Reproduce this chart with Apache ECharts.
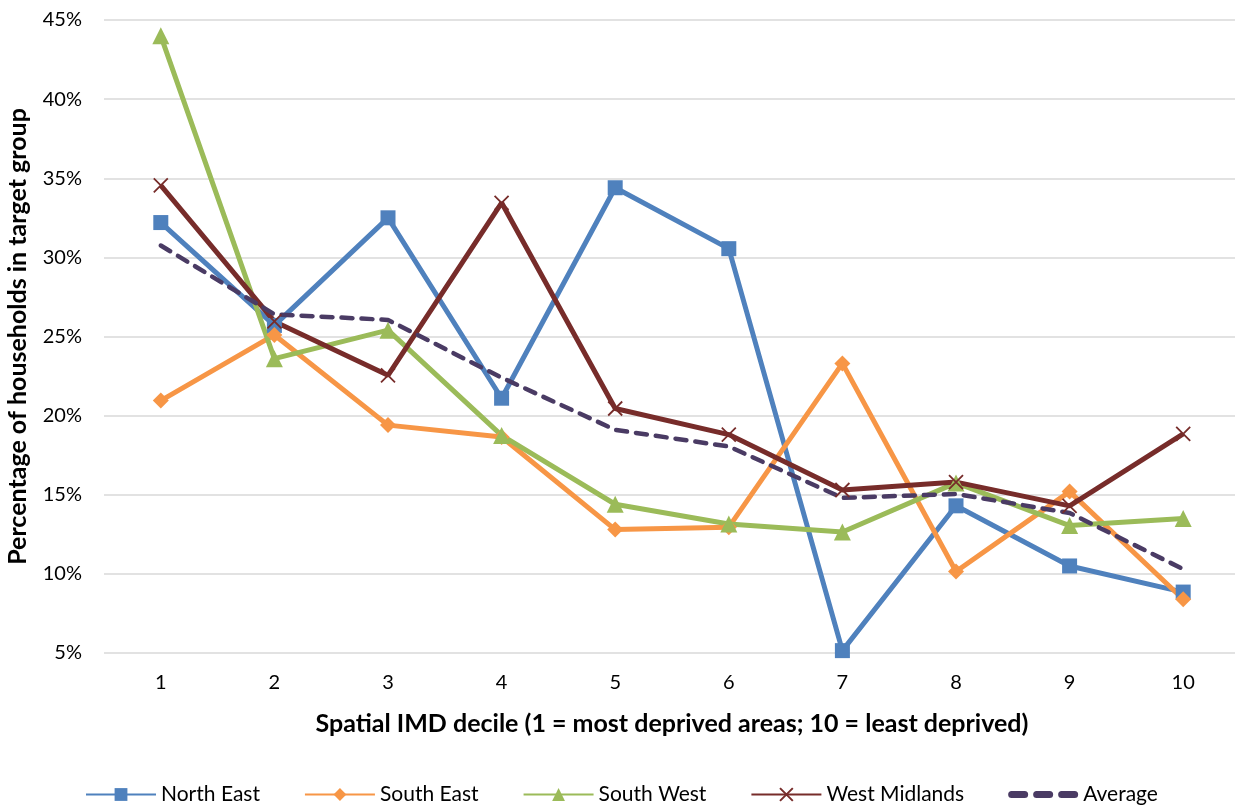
<!DOCTYPE html>
<html>
<head>
<meta charset="utf-8">
<script src="https://cdn.jsdelivr.net/npm/echarts@6/dist/echarts.min.js"></script>
<style>
html,body{margin:0;padding:0;background:#fff;}
#chart{width:1235px;height:805px;}
</style>
</head>
<body>
<div id="chart"></div>
<script>
const categories = ['1','2','3','4','5','6','7','8','9','10'];
const northEast = [32.2, 25.7, 32.5, 21.1, 34.4, 30.55, 5.15, 14.3, 10.5, 8.85];
const southEast = [20.95, 25.1, 19.4, 18.65, 12.8, 12.95, 23.3, 10.15, 15.2, 8.4];
const southWest = [44.0, 23.6, 25.4, 18.75, 14.4, 13.15, 12.65, 15.75, 13.05, 13.5];
const westMidlands = [34.55, 25.95, 22.55, 33.45, 20.45, 18.8, 15.3, 15.8, 14.3, 18.85];
const average = [30.75, 26.4, 26.05, 22.4, 19.1, 18.05, 14.8, 15.05, 13.85, 10.3];
const seriesNames = ['North East', 'South East', 'South West', 'West Midlands', 'Average'];

const FONT = 'Lato';
const chart = echarts.init(document.getElementById('chart'));
const xPath = 'path://M0,0L10,10M10,0L0,10';
function dash(x0) {
  return 'M' + (x0 + 3.5) + ',0h13a3.5,3.5 0 0 1 0,7h-13a3.5,3.5 0 0 1 0,-7z';
}
const avgIcon = 'path://' + dash(0) + dash(25) + dash(50);

function lineSeries(name, data, color, symbol, size, extra) {
  return Object.assign({
    name: name,
    type: 'line',
    data: data,
    symbol: symbol,
    symbolSize: size,
    lineStyle: { color: color, width: 5 },
    itemStyle: { color: color }
  }, extra || {});
}

chart.setOption({
  animation: false,
  backgroundColor: '#ffffff',
  grid: { left: 104, right: -5, top: 20, bottom: 152, containLabel: false, outerBoundsMode: 'none' },
  xAxis: {
    type: 'category',
    data: categories,
    boundaryGap: true,
    axisLine: { show: false },
    axisTick: { show: false },
    axisLabel: { color: '#000', fontFamily: FONT, fontSize: 20, margin: 20 },
    name: 'Spatial IMD decile (1 = most deprived areas; 10 = least deprived)',
    nameLocation: 'middle',
    nameGap: 58,
    nameTextStyle: { color: '#000', fontFamily: FONT, fontSize: 25, fontWeight: 'bold' }
  },
  yAxis: {
    type: 'value',
    min: 5, max: 45, interval: 5,
    axisLine: { show: false },
    axisTick: { show: false },
    splitLine: { lineStyle: { color: '#D9D9D9', width: 1.5 } },
    axisLabel: { color: '#000', fontFamily: FONT, fontSize: 20, margin: 22, formatter: '{value}%' },
    name: 'Percentage of households in target group',
    nameLocation: 'middle',
    nameGap: 74,
    nameTextStyle: { color: '#000', fontFamily: FONT, fontSize: 25, fontWeight: 'bold' }
  },
  legend: {
    data: [
      { name: seriesNames[0] },
      { name: seriesNames[1] },
      { name: seriesNames[2] },
      { name: seriesNames[3] },
      { name: seriesNames[4], icon: avgIcon }
    ],
    left: 80,
    top: 779,
    itemWidth: 70,
    itemHeight: 16,
    itemGap: 44,
    textStyle: { color: '#000', fontFamily: FONT, fontSize: 21 }
  },
  series: [
    lineSeries(seriesNames[0], northEast, '#4F81BD', 'rect', 15),
    lineSeries(seriesNames[1], southEast, '#F79646', 'diamond', 16),
    lineSeries(seriesNames[2], southWest, '#9BBB59', 'triangle', 17),
    lineSeries(seriesNames[3], westMidlands, '#772C2A', xPath, 14, {
      itemStyle: { color: '#772C2A', borderColor: '#772C2A', borderWidth: 1.8 }
    }),
    lineSeries(seriesNames[4], average, '#4A3B64', 'none', 0, {
      lineStyle: { color: '#4A3B64', width: 4.5, type: [11, 9], cap: 'round' },
      itemStyle: { color: '#4A3B64' }
    })
  ]
});
</script>
</body>
</html>
